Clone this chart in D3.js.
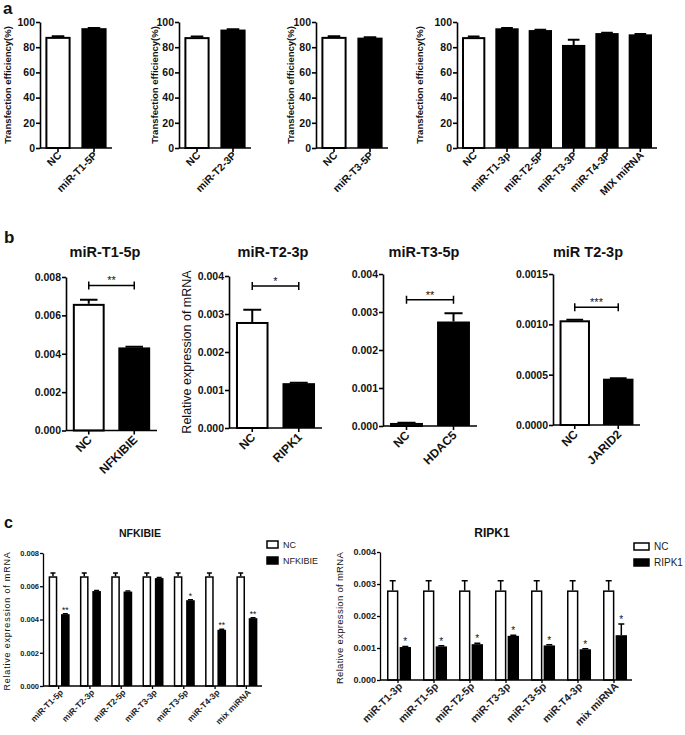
<!DOCTYPE html>
<html>
<head>
<meta charset="utf-8">
<script src="https://cdn.jsdelivr.net/npm/d3@7"></script>
<style>
body { margin: 0; background: #fff; }
text { font-family: Arial, "Liberation Sans", sans-serif; fill: #111; }
</style>
</head>
<body>
<script>
// ---- panel a : transfection efficiency (%)
var tfLabels1 = ["NC", "miR-T1-5P"];
var tfMeans1 = [88.2, 95.1];
var tfErr1 = [0.5, 0.2];
var tfLabels2 = ["NC", "miR-T2-3P"];
var tfMeans2 = [88.0, 94.0];
var tfErr2 = [0.5, 0.2];
var tfLabels3 = ["NC", "miR-T3-5P"];
var tfMeans3 = [88.2, 87.6];
var tfErr3 = [0.5, 0.2];
var tfLabels4 = ["NC", "miR-T1-3p", "miR-T2-5P", "miR-T3-3P", "miR-T4-3P", "MIX miRNA"];
var tfMeans4 = [88.0, 95.0, 93.6, 81.8, 91.2, 90.2];
var tfErr4 = [0.4, 0.3, 0.2, 4.2, 0.3, 0.2];
var tfTicks = [0, 20, 40, 60, 80, 100];

// ---- panel b : relative expression of mRNA
var b1Labels = ["NC", "NFKIBIE"];
var b1Means = [0.0066, 0.00433];
var b1Err = [0.00022, 0.00003];
var b2Labels = ["NC", "RIPK1"];
var b2Means = [0.00279, 0.00118];
var b2Err = [0.00032, 0.00001];
var b3Labels = ["NC", "HDAC5"];
var b3Means = [0.00008, 0.00275];
var b3Err = [0.000003, 0.00022];
var b4Labels = ["NC", "JARID2"];
var b4Means = [0.00104, 0.00046];
var b4Err = [0.000005, 0.000005];
var bTitles = ["miR-T1-5p", "miR-T2-3p", "miR-T3-5p", "miR T2-3p"];
var bStars = ["**", "*", "**", "***"];
var bTicksA = [0, 0.002, 0.004, 0.006, 0.008];
var bTicksB = [0, 0.001, 0.002, 0.003, 0.004];
var bTicksC = [0, 0.0005, 0.0010, 0.0015];

// ---- panel c : grouped
var c1Groups = ["miR-T1-5p", "miR-T2-3p", "miR-T2-5p", "miR-T3-3p", "miR-T3-5p", "miR-T4-3p", "mix miRNA"];
var c1NC = [0.0066, 0.0066, 0.0066, 0.0066, 0.0066, 0.0066, 0.0066];
var c1NCErr = [0.0002, 0.0002, 0.0002, 0.0002, 0.0002, 0.0002, 0.0002];
var c1Treat = [0.00432, 0.00571, 0.00568, 0.00649, 0.00516, 0.00338, 0.00408];
var c1TreatErr = [0.00003, 0.00003, 0.00003, 0.00003, 0.00003, 0.00003, 0.00003];
var c1Stars = ["**", "", "", "", "*", "**", "**"];
var c1Ticks = [0, 0.002, 0.004, 0.006, 0.008];

var c2Groups = ["miR-T1-3p", "miR-T1-5p", "miR-T2-5p", "miR-T3-3p", "miR-T3-5p", "miR-T4-3p", "mix miRNA"];
var c2NC = [0.0028, 0.0028, 0.0028, 0.0028, 0.0028, 0.0028, 0.0028];
var c2NCErr = [0.0003, 0.0003, 0.0003, 0.0003, 0.0003, 0.0003, 0.0003];
var c2Treat = [0.00103, 0.00105, 0.00112, 0.00138, 0.00108, 0.00096, 0.0014];
var c2TreatErr = [0.00002, 0.00002, 0.00003, 0.00002, 0.00002, 0.00002, 0.00035];
var c2Stars = ["*", "*", "*", "*", "*", "*", "*"];
var c2Ticks = [0, 0.001, 0.002, 0.003, 0.004];

var svg = d3.select("body")
    .append("svg")
    .attr("width", 685)
    .attr("height", 735);

function barChart(o) {
    var g = svg.append("g");
    var x = d3.scaleBand()
        .domain(o.labels)
        .range([o.x0, o.x1])
        .paddingInner(0.3)
        .paddingOuter(o.po == null ? 0.15 : o.po);
    var y = d3.scaleLinear()
        .domain([0, o.max])
        .range([o.yBot, o.yTop]);
    var bw = x.bandwidth();
    var sw = o.sw;

    // error bars (upward only)
    g.selectAll(".err")
        .data(o.means)
        .enter()
        .append("path")
        .attr("d", function(d, i) {
            var cx = x(o.labels[i]) + bw / 2, t = y(d + o.errs[i]), c = bw * o.cap / 2;
            return "M" + cx + "," + y(d) + "V" + t + "M" + (cx - c) + "," + t + "H" + (cx + c);
        })
        .style("fill", "none")
        .style("stroke", "black")
        .style("stroke-width", sw);

    g.selectAll(".bar")
        .data(o.means)
        .enter()
        .append("rect")
        .attr("x", function(d, i) { return x(o.labels[i]) + (i == 0 ? sw / 2 : 0); })
        .attr("width", function(d, i) { return bw - (i == 0 ? sw : 0); })
        .attr("y", function(d, i) { return y(d) + (i == 0 ? sw / 2 : 0); })
        .attr("height", function(d, i) { return Math.max(0.5, o.yBot - y(d) - (i == 0 ? sw / 2 : 0)); })
        .style("fill", function(d, i) { return i == 0 ? "white" : "black"; })
        .style("stroke", "black")
        .style("stroke-width", function(d, i) { return i == 0 ? sw : 0; });

    var ax = g.append("g")
        .attr("transform", "translate(" + o.x0 + ",0)")
        .call(d3.axisLeft(y).tickValues(o.ticks).tickFormat(o.fmt).tickSize(4).tickSizeOuter(0).tickPadding(1));
    ax.select(".domain").style("stroke-width", o.axw);
    ax.selectAll(".tick line").style("stroke-width", o.axw);
    ax.selectAll("text")
        .style("font-size", o.tickFont + "px")
        .style("font-weight", "bold")
        .style("fill", "#111");

    g.append("line")
        .attr("x1", o.x0).attr("x2", o.x1)
        .attr("y1", o.yBot).attr("y2", o.yBot)
        .style("stroke", "black")
        .style("stroke-width", o.axw);

    g.selectAll(".xt")
        .data(o.labels)
        .enter()
        .append("line")
        .attr("x1", function(d) { return x(d) + bw / 2; })
        .attr("x2", function(d) { return x(d) + bw / 2; })
        .attr("y1", o.yBot).attr("y2", o.yBot + 4)
        .style("stroke", "black")
        .style("stroke-width", o.axw);

    g.selectAll(".xl")
        .data(o.labels)
        .enter()
        .append("text")
        .text(function(d) { return d; })
        .attr("text-anchor", "end")
        .attr("transform", function(d) {
            return "translate(" + (x(d) + bw / 2 + o.ldx) + "," + (o.yBot + o.ldy) + ") rotate(-45)";
        })
        .style("font-size", o.labelFont + "px")
        .style("font-weight", "bold");

    if (o.ylab) {
        g.append("text")
            .text(o.ylab)
            .attr("text-anchor", "middle")
            .attr("transform", "translate(" + o.ylabX + "," + o.ylabY + ") rotate(-90)")
            .style("font-size", o.ylabFont + "px")
            .style("font-weight", o.ylabWeight || "bold");
    }
    if (o.title) {
        g.append("text")
            .text(o.title)
            .attr("x", o.titleX).attr("y", o.titleY)
            .attr("text-anchor", "middle")
            .style("font-size", "14.5px")
            .style("font-weight", "bold");
    }
    if (o.star) {
        var xa = x(o.labels[0]) + bw / 2, xb = x(o.labels[1]) + bw / 2, by = y(o.brk);
        g.append("path")
            .attr("d", "M" + xa + "," + (by - 4) + "V" + (by + 4) + "M" + xa + "," + by + "H" + xb +
                       "M" + xb + "," + (by - 4) + "V" + (by + 4))
            .style("fill", "none")
            .style("stroke", "black")
            .style("stroke-width", 1.5);
        g.append("text")
            .text(o.star)
            .attr("x", (xa + xb) / 2).attr("y", by - 1)
            .attr("text-anchor", "middle")
            .style("font-size", "11px");
    }
}

function groupChart(o) {
    var g = svg.append("g");
    var x = d3.scaleBand().domain(o.groups).range([o.x0, o.x1]);
    var sub = d3.scaleBand().domain(["NC", o.name]).range([o.subL, o.subR]).paddingInner(o.subPad);
    var y = d3.scaleLinear().domain([0, o.max]).range([o.yBot, o.yTop]);
    var bw = sub.bandwidth();
    var step = x.bandwidth();
    function cx(i) { return x(o.groups[i]) + step / 2; }

    // NC bars with error caps
    g.selectAll(".ncerr")
        .data(o.nc)
        .enter()
        .append("path")
        .attr("d", function(d, i) {
            var c = cx(i) + sub("NC") + bw / 2, t = y(d + o.ncErr[i]);
            return "M" + c + "," + y(d) + "V" + t + "M" + (c - o.cap) + "," + t + "H" + (c + o.cap);
        })
        .style("fill", "none").style("stroke", "black").style("stroke-width", 1.5);
    g.selectAll(".nc")
        .data(o.nc)
        .enter()
        .append("rect")
        .attr("x", function(d, i) { return cx(i) + sub("NC") + 0.75; })
        .attr("width", bw - 1.5)
        .attr("y", function(d) { return y(d) + 0.75; })
        .attr("height", function(d) { return o.yBot - y(d) - 0.75; })
        .style("fill", "white").style("stroke", "black").style("stroke-width", 1.5);

    g.selectAll(".trerr")
        .data(o.treat)
        .enter()
        .append("path")
        .attr("d", function(d, i) {
            var c = cx(i) + sub(o.name) + bw / 2, t = y(d + o.treatErr[i]);
            return "M" + c + "," + y(d) + "V" + t + "M" + (c - o.cap) + "," + t + "H" + (c + o.cap);
        })
        .style("fill", "none").style("stroke", "black").style("stroke-width", 1.5);
    g.selectAll(".tr")
        .data(o.treat)
        .enter()
        .append("rect")
        .attr("x", function(d, i) { return cx(i) + sub(o.name); })
        .attr("width", bw)
        .attr("y", function(d) { return y(d); })
        .attr("height", function(d) { return o.yBot - y(d); })
        .style("fill", "black");

    g.selectAll(".star")
        .data(o.treat)
        .enter()
        .append("text")
        .text(function(d, i) { return o.stars[i]; })
        .attr("x", function(d, i) { return cx(i) + sub(o.name) + bw / 2; })
        .attr("y", function(d, i) { return y(d + o.treatErr[i]) - 1; })
        .attr("text-anchor", "middle")
        .style("font-size", o.starFont + "px");

    var ax = g.append("g")
        .attr("transform", "translate(" + o.x0 + ",0)")
        .call(d3.axisLeft(y).tickValues(o.ticks).tickFormat(d3.format(".3f")).tickSize(3).tickSizeOuter(0).tickPadding(1));
    ax.select(".domain").style("stroke-width", 1.3);
    ax.selectAll(".tick line").style("stroke-width", 1.3);
    ax.selectAll("text").style("font-size", o.tickFont + "px").style("font-weight", "bold").style("fill", "#222");

    g.append("line")
        .attr("x1", o.x0).attr("x2", o.x1)
        .attr("y1", o.yBot).attr("y2", o.yBot)
        .style("stroke", "black").style("stroke-width", 1.3);
    g.selectAll(".xt")
        .data(o.groups)
        .enter()
        .append("line")
        .attr("x1", function(d, i) { return cx(i); })
        .attr("x2", function(d, i) { return cx(i); })
        .attr("y1", o.yBot).attr("y2", o.yBot + 3)
        .style("stroke", "black").style("stroke-width", 1.3);
    g.selectAll(".xl")
        .data(o.groups)
        .enter()
        .append("text")
        .text(function(d) { return d; })
        .attr("text-anchor", "end")
        .attr("transform", function(d, i) {
            return "translate(" + (cx(i) + o.ldx) + "," + (o.yBot + o.ldy) + ") rotate(-45)";
        })
        .style("font-size", o.labelFont + "px")
        .style("font-weight", "bold")
        .style("fill", "#222");

    g.append("text")
        .text("Relative expression of mRNA")
        .attr("text-anchor", "middle")
        .attr("transform", "translate(" + o.ylabX + "," + o.ylabY + ") rotate(-90)")
        .style("font-size", o.ylabFont + "px")
        .style("letter-spacing", o.ylabSpace + "px");

    g.append("text")
        .text(o.name)
        .attr("x", o.titleX).attr("y", o.titleY)
        .attr("text-anchor", "middle")
        .style("font-size", o.titleFont + "px")
        .style("font-weight", "bold");

    // legend
    var keys = ["NC", o.name];
    g.selectAll(".lg")
        .data(keys)
        .enter()
        .append("rect")
        .attr("x", o.legX)
        .attr("y", function(d, i) { return o.legY + i * o.legStep; })
        .attr("width", o.legW).attr("height", o.legH)
        .style("fill", function(d, i) { return i == 0 ? "white" : "black"; })
        .style("stroke", "black").style("stroke-width", 1.5);
    g.selectAll(".lt")
        .data(keys)
        .enter()
        .append("text")
        .text(function(d) { return d; })
        .attr("x", o.legX + o.legW + 5)
        .attr("y", function(d, i) { return o.legY + i * o.legStep + o.legH / 2 + 3.5; })
        .style("font-size", o.legFont + "px")
        .style("fill", "#222");
}

// panel letters
svg.append("text").text("a").attr("x", 3).attr("y", 14).style("font-size", "17px").style("font-weight", "bold");
svg.append("text").text("b").attr("x", 4).attr("y", 243).style("font-size", "17px").style("font-weight", "bold");
svg.append("text").text("c").attr("x", 4).attr("y", 528).style("font-size", "16px").style("font-weight", "bold");

// ---- a
var tfYlab = "Transfection efficiency(%)";
var aCommon = { max: 100, ticks: tfTicks, fmt: d3.format("d"), yBot: 148, yTop: 22, sw: 2, axw: 1.6,
                tickFont: 10.5, labelFont: 10.5, ldx: 4, ldy: 8, cap: 0.5, ylab: tfYlab, ylabY: 85, ylabFont: 9.5 };
barChart(Object.assign({}, aCommon, { labels: tfLabels1, means: tfMeans1, errs: tfErr1, x0: 40, x1: 112, ylabX: 11 }));
barChart(Object.assign({}, aCommon, { labels: tfLabels2, means: tfMeans2, errs: tfErr2, x0: 179, x1: 251, ylabX: 158 }));
barChart(Object.assign({}, aCommon, { labels: tfLabels3, means: tfMeans3, errs: tfErr3, x0: 316, x1: 388, ylabX: 294 }));
barChart(Object.assign({}, aCommon, { labels: tfLabels4, means: tfMeans4, errs: tfErr4, x0: 457, x1: 657, ylabX: 423 }));

// ---- b
var bCommon = { sw: 2, axw: 1.6, tickFont: 10.5, labelFont: 12, ldx: 4, ldy: 10, cap: 0.55, po: 0.15, titleY: 257 };
barChart(Object.assign({}, bCommon, { labels: b1Labels, means: b1Means, errs: b1Err, max: 0.008, ticks: bTicksA,
    fmt: d3.format(".3f"), x0: 66, x1: 157, yBot: 430.5, yTop: 277, title: bTitles[0], titleX: 105,
    star: bStars[0], brk: 0.00756 }));
barChart(Object.assign({}, bCommon, { labels: b2Labels, means: b2Means, errs: b2Err, max: 0.004, ticks: bTicksB,
    fmt: d3.format(".3f"), x0: 229, x1: 322, yBot: 428, yTop: 276, title: bTitles[1], titleX: 273,
    star: bStars[1], brk: 0.00374, ylab: "Relative expression of mRNA", ylabX: 191, ylabY: 352, ylabFont: 12.5, ylabWeight: "normal" }));
barChart(Object.assign({}, bCommon, { labels: b3Labels, means: b3Means, errs: b3Err, max: 0.004, ticks: bTicksB,
    fmt: d3.format(".3f"), x0: 383, x1: 477, yBot: 426, yTop: 274, title: bTitles[2], titleX: 424,
    star: bStars[2], brk: 0.00332 }));
barChart(Object.assign({}, bCommon, { labels: b4Labels, means: b4Means, errs: b4Err, max: 0.0015, ticks: bTicksC,
    fmt: d3.format(".4f"), x0: 553, x1: 640, yBot: 425, yTop: 274, title: bTitles[3], titleX: 588,
    star: bStars[3], brk: 0.00117 }));

// ---- c
groupChart({ name: "NFKIBIE", groups: c1Groups, nc: c1NC, ncErr: c1NCErr, treat: c1Treat, treatErr: c1TreatErr,
    stars: c1Stars, ticks: c1Ticks, max: 0.008, x0: 43, x1: 262, yBot: 686, yTop: 553,
    subL: -10, subR: 11, subPad: 0.3, cap: 2.5, starFont: 8.5, tickFont: 7.5, labelFont: 8.5, ldx: 5, ldy: 7,
    ylabX: 10, ylabY: 621, ylabFont: 9, ylabSpace: 0.8, titleX: 140, titleY: 537, titleFont: 10.5,
    legX: 267, legY: 541, legStep: 16, legW: 11, legH: 7, legFont: 9 });
groupChart({ name: "RIPK1", groups: c2Groups, nc: c2NC, ncErr: c2NCErr, treat: c2Treat, treatErr: c2TreatErr,
    stars: c2Stars, ticks: c2Ticks, max: 0.004, x0: 380, x1: 632, yBot: 680, yTop: 552,
    subL: -11, subR: 13, subPad: 0.1, cap: 3, starFont: 10, tickFont: 9, labelFont: 10.5, ldx: 5, ldy: 7,
    ylabX: 343, ylabY: 618, ylabFont: 9.5, ylabSpace: 0.3, titleX: 492, titleY: 537, titleFont: 12,
    legX: 634, legY: 543, legStep: 16, legW: 15, legH: 7, legFont: 10 });
</script>
</body>
</html>
